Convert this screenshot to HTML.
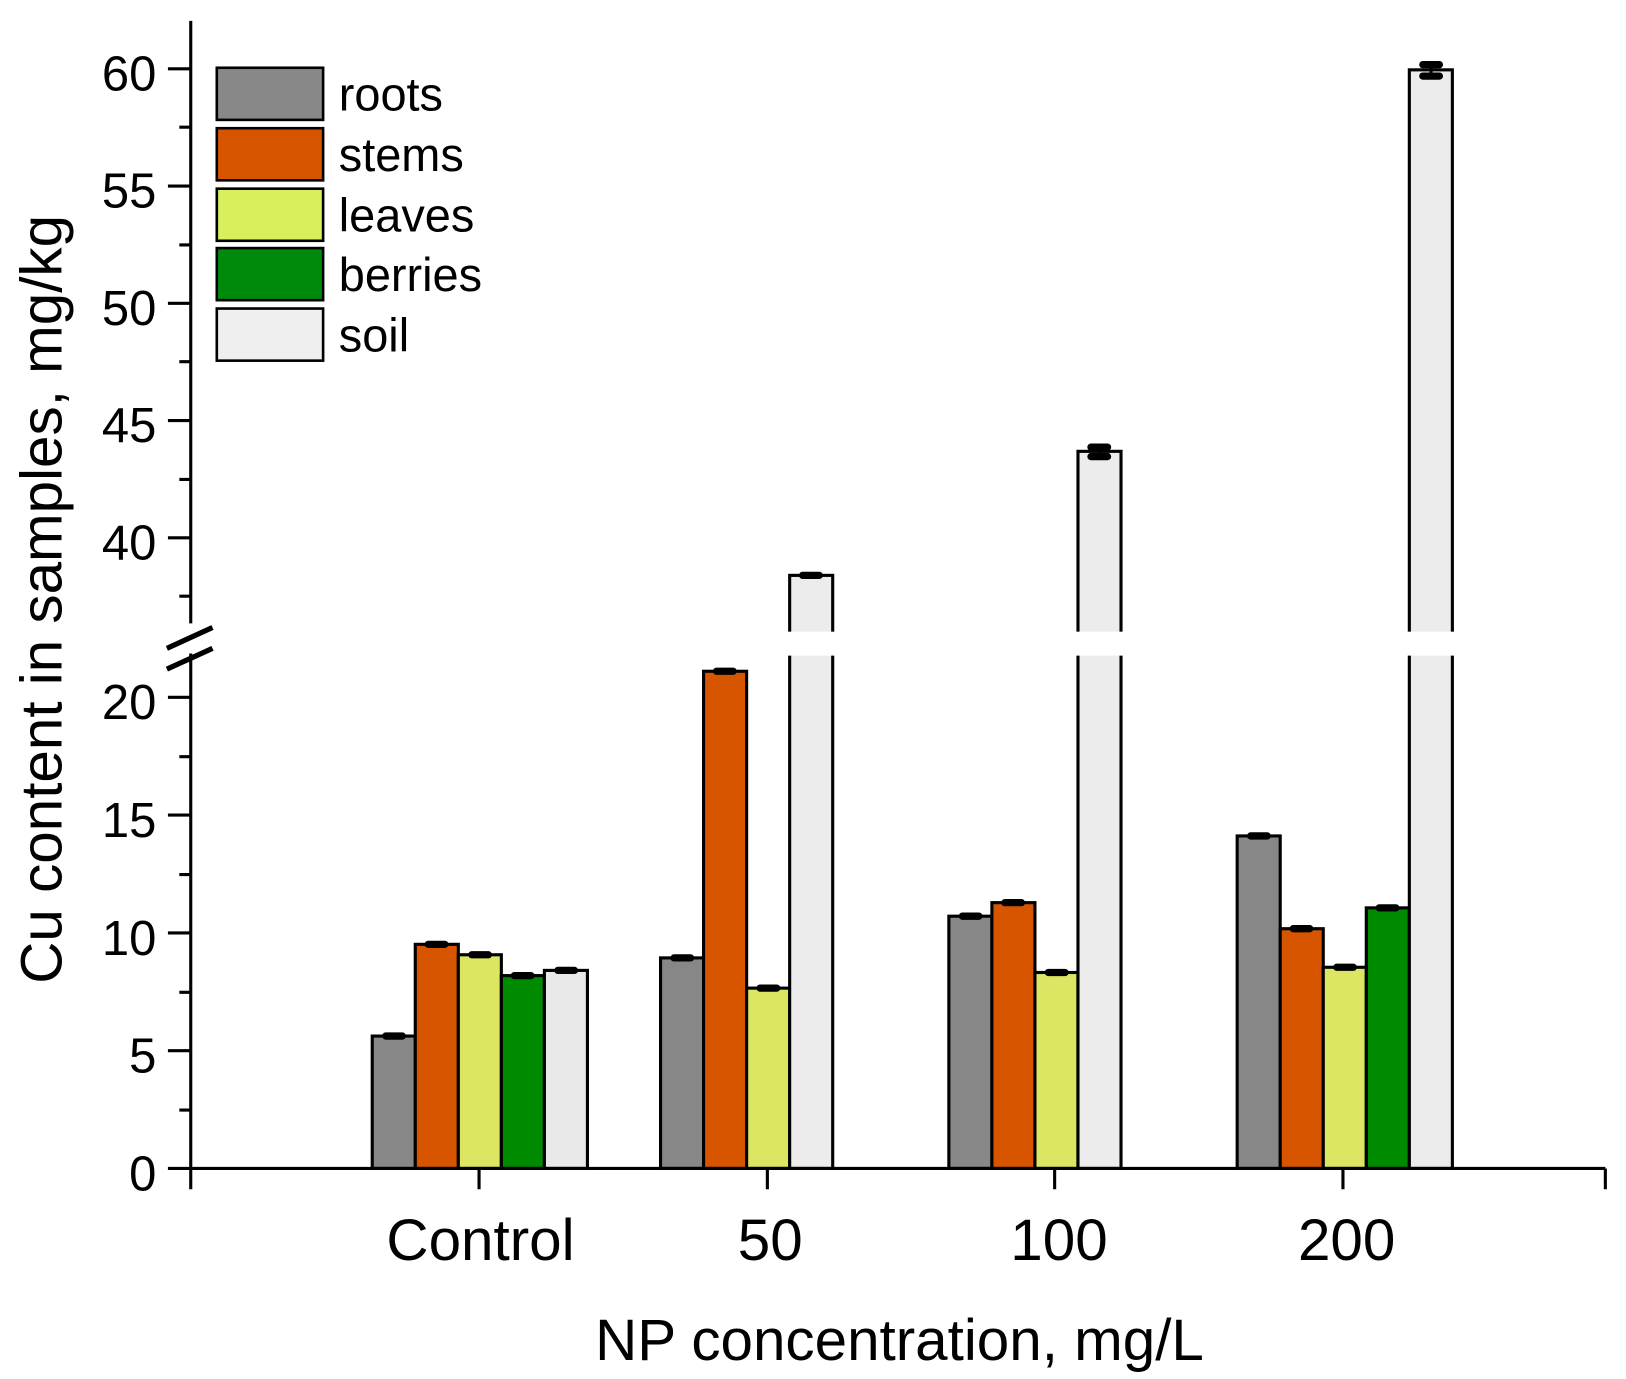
<!DOCTYPE html>
<html><head><style>html,body{margin:0;padding:0;background:#fff}svg{display:block}</style></head>
<body>
<svg width="1626" height="1379" viewBox="0 0 1560 1323" xmlns="http://www.w3.org/2000/svg" font-family="Liberation Sans, Arial, sans-serif">
<rect width="1560" height="1323" fill="#fff"/>
<g transform="translate(183 0) scale(0.995 1) translate(-183 0)">
<g stroke="#000" stroke-width="3">
<rect x="358" y="994" width="41.5" height="127" fill="#878787"/>
<rect x="399.5" y="906" width="41.5" height="215" fill="#d85500"/>
<rect x="441" y="916" width="41.5" height="205" fill="#dce662"/>
<rect x="482.5" y="936" width="41.5" height="185" fill="#008a00"/>
<rect x="524" y="931" width="41.5" height="190" fill="#e9e9e9"/>
<rect x="636" y="919" width="41.5" height="202" fill="#878787"/>
<rect x="677.5" y="644" width="41.5" height="477" fill="#d85500"/>
<rect x="719" y="948" width="41.5" height="173" fill="#dce662"/>
<rect x="760.5" y="552" width="41.5" height="569" fill="#ececec"/>
<rect x="914" y="879" width="41.5" height="242" fill="#878787"/>
<rect x="955.5" y="866" width="41.5" height="255" fill="#d85500"/>
<rect x="997" y="933" width="41.5" height="188" fill="#dce662"/>
<rect x="1038.5" y="433" width="41.5" height="688" fill="#ececec"/>
<rect x="1192" y="802" width="41.5" height="319" fill="#878787"/>
<rect x="1233.5" y="891" width="41.5" height="230" fill="#d85500"/>
<rect x="1275" y="928" width="41.5" height="193" fill="#dce662"/>
<rect x="1316.5" y="871" width="41.5" height="250" fill="#008a00"/>
<rect x="1358" y="67" width="41.5" height="1054" fill="#ececec"/>
</g>
<rect x="700" y="606" width="720" height="23" fill="#fff"/>
<g stroke="#000" stroke-width="7" stroke-linecap="round">
<path d="M371 994h16M412 906h16M454 916h16M495 936h16M537 931h16"/>
<path d="M649 919h16M690 644h16M732 948h16M773 552h16"/>
<path d="M927 879h16M968 866h16M1010 933h16M1051 429h16M1051 438h16"/>
<path d="M1205 802h16M1246 891h16M1288 928h16M1329 871h16M1371 62h16M1371 73h16"/>
</g>
<g stroke="#000" stroke-width="3"><path d="M1059 429v9M1379 62v11"/></g>
<g stroke="#000" stroke-width="3" fill="none">
<path d="M183 20V598M183 627V1122"/>
<path d="M183 1121H1547"/>
<path d="M161 1121h22M161 1008h22M161 895h22M161 782h22M161 669h22M172 1065h11M172 952h11M172 839h11M172 726h11"/>
<path d="M161 66h22M161 178.5h22M161 291h22M161 403.5h22M161 516h22M172 122h11M172 235h11M172 347h11M172 460h11M172 572h11"/>
<path d="M183 1121v20M461 1121v20M739 1121v20M1016 1121v20M1294 1121v20M1547 1121v20"/>
</g>
<g stroke="#000" stroke-width="5"><path d="M160 622l44-20M160 642l44-20"/></g>
</g>
<g font-size="47" text-anchor="end">
<text x="150" y="1142">0</text><text x="150" y="1029">5</text><text x="150" y="916">10</text><text x="150" y="803">15</text><text x="150" y="690">20</text>
<text x="150" y="537">40</text><text x="150" y="424">45</text><text x="150" y="312">50</text><text x="150" y="199">55</text><text x="150" y="87">60</text>
</g>
<g font-size="56" text-anchor="middle">
<text x="461" y="1209">Control</text><text x="739" y="1209">50</text><text x="1016" y="1209">100</text><text x="1292" y="1209">200</text>
<text x="863" y="1305">NP concentration, mg/L</text>
<text transform="translate(59 575) rotate(-90)">Cu content in samples, mg/kg</text>
</g>
<g stroke="#000" stroke-width="2.5">
<rect x="208" y="65" width="102" height="50" fill="#888"/>
<rect x="208" y="123" width="102" height="50" fill="#d85500"/>
<rect x="208" y="181" width="102" height="50" fill="#daef5c"/>
<rect x="208" y="238" width="102" height="50" fill="#008a0c"/>
<rect x="208" y="296" width="102" height="50" fill="#efefef"/>
</g>
<g font-size="45">
<text x="325" y="106">roots</text><text x="325" y="164">stems</text><text x="325" y="222">leaves</text><text x="325" y="279">berries</text><text x="325" y="337">soil</text>
</g>
</svg>
</body></html>
